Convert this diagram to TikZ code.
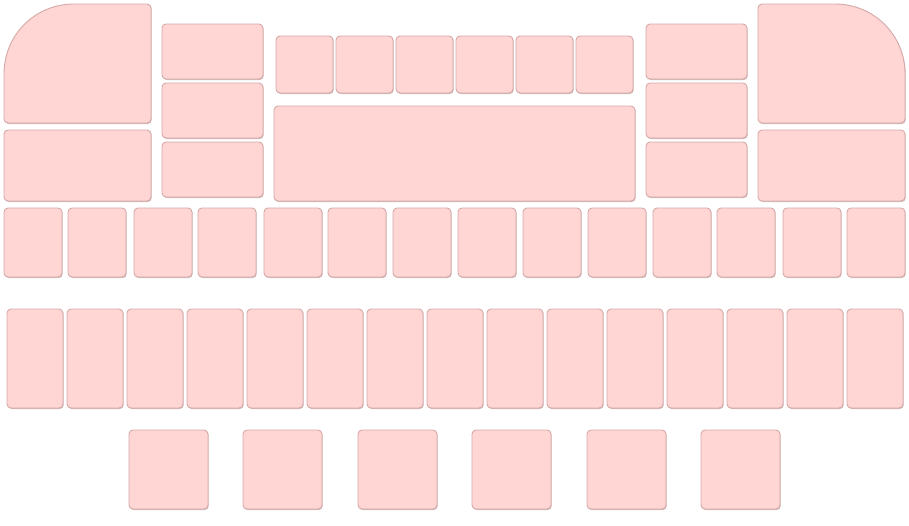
\documentclass[tikz,border=0pt]{standalone}
\usepackage{xcolor}
\usepackage{tikz}
\usetikzlibrary{shadows}

\definecolor{keyfill}{HTML}{FFD6D4}
\definecolor{keyedge}{HTML}{D4A9A8}
\definecolor{keyshade}{HTML}{B08888}

\begin{document}
\begin{tikzpicture}[
        x=1pt, y=-1pt,
        keycap/.style={fill=keyfill, draw=keyedge, line width=0.9pt, rounded corners=4pt,
            drop shadow={shadow xshift=0.7pt, shadow yshift=-1pt, fill=keyshade, opacity=0.6}}
    ]
        \useasboundingbox (0,0) rectangle (909,525);

        % ================= CỤM TRÊN BÊN TRÁI =================
        \draw[keycap] (4,78) .. controls (4,35) and (35,4) .. (78,4) -- (151,4) -- (151,123) -- (4,123) -- cycle;
        \draw[keycap] (4,130) rectangle (151,201);

        \draw[keycap] (162,24) rectangle (263,79);
        \draw[keycap] (162,83) rectangle (263,138);
        \draw[keycap] (162,142) rectangle (263,197);

        % ================= CỤM GIỮA =================
        \foreach \x in {276,336,396,456,516,576}
            \draw[keycap] (\x,36) rectangle (\x+57,93);
        \draw[keycap] (274,106) rectangle (635,201);

        % ================= CỤM TRÊN BÊN PHẢI =================
        \draw[keycap] (646,24) rectangle (747,79);
        \draw[keycap] (646,83) rectangle (747,138);
        \draw[keycap] (646,142) rectangle (747,197);

        \draw[keycap] (758,123) -- (758,4) -- (831,4) .. controls (874,4) and (905,35) .. (905,78) -- (905,123) -- cycle;
        \draw[keycap] (758,130) rectangle (905,201);

        % ================= HÀNG 14 PHÍM =================
        \foreach \x in {4,68,134,198,264,328,393,458,523,588,653,717,783,847}
            \draw[keycap] (\x,208) rectangle (\x+58,277);

        % ================= HÀNG 15 PHÍM =================
        \foreach \i in {0,...,14}
            \draw[keycap] (7+60*\i,309) rectangle (63+60*\i,408);

        % ================= HÀNG DƯỚI =================
        \foreach \x in {129,243,358,472,587,701}
            \draw[keycap] (\x,430) rectangle (\x+79,509);
    \end{tikzpicture}
\end{document}
